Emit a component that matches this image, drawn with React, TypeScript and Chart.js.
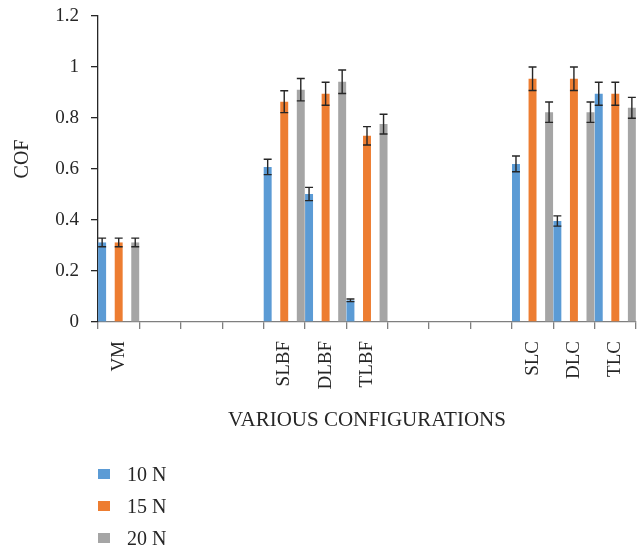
import React, { useEffect, useRef } from "react";
import { Chart, registerables } from "chart.js";

Chart.register(...registerables);

const categories = ["VM", "", "", "", "SLBF", "DLBF", "TLBF", "", "", "", "SLC", "DLC", "TLC"];
const seriesNames = ["10 N", "15 N", "20 N"];
const cof10 = [0.312, null, null, null, 0.608, 0.502, 0.085, null, null, null, 0.62, 0.396, 0.895];
const cof15 = [0.312, null, null, null, 0.864, 0.895, 0.73, null, null, null, 0.954, 0.954, 0.895];
const cof20 = [0.312, null, null, null, 0.911, 0.942, 0.776, null, null, null, 0.823, 0.823, 0.84];
const err10 = [0.017, null, null, null, 0.03, 0.026, 0.005, null, null, null, 0.031, 0.02, 0.045];
const err15 = [0.017, null, null, null, 0.043, 0.045, 0.036, null, null, null, 0.046, 0.046, 0.045];
const err20 = [0.017, null, null, null, 0.044, 0.046, 0.039, null, null, null, 0.04, 0.04, 0.041];
const colors = ["#5B9BD5", "#ED7D31", "#A5A5A5"];
const yTitle = "COF";

const FONT = "'Liberation Serif', 'Times New Roman', serif";
const TEXT = "#262626";

const errorBarPlugin = {
  id: "errorBars",
  afterDatasetsDraw(chart: any) {
    const ctx = chart.ctx;
    const yScale = chart.scales.y;
    chart.data.datasets.forEach((ds: any, di: number) => {
      const meta = chart.getDatasetMeta(di);
      meta.data.forEach((bar: any, i: number) => {
        const v = ds.data[i];
        const e = ds.errors ? ds.errors[i] : null;
        if (v == null || e == null) return;
        const yt = yScale.getPixelForValue(v + e);
        const yb = yScale.getPixelForValue(v - e);
        const half = bar.width / 2;
        ctx.save();
        ctx.strokeStyle = "#262626";
        ctx.lineWidth = 1.4;
        ctx.beginPath();
        ctx.moveTo(bar.x, yt);
        ctx.lineTo(bar.x, yb);
        ctx.moveTo(bar.x - half, yt);
        ctx.lineTo(bar.x + half, yt);
        ctx.moveTo(bar.x - half, yb);
        ctx.lineTo(bar.x + half, yb);
        ctx.stroke();
        ctx.restore();
      });
    });
  },
};

const yTitlePlugin = {
  id: "yTitle",
  afterDraw(chart: any) {
    const ctx = chart.ctx;
    const area = chart.chartArea;
    ctx.save();
    ctx.translate(23, (area.top + area.bottom) / 2 - 10);
    ctx.rotate(-Math.PI / 2);
    ctx.font = `20px ${FONT}`;
    ctx.fillStyle = TEXT;
    ctx.textAlign = "center";
    ctx.textBaseline = "middle";
    ctx.fillText(yTitle, 0, 0);
    ctx.restore();
  },
};

export default function App() {
  const canvasRef = useRef<HTMLCanvasElement>(null);

  useEffect(() => {
    if (!canvasRef.current) return;
    const values = [cof10, cof15, cof20];
    const errs = [err10, err15, err20];
    const chart = new Chart(canvasRef.current, {
      type: "bar",
      data: {
        labels: categories,
        datasets: seriesNames.map((name, k) => ({
          label: name,
          data: values[k],
          errors: errs[k],
          backgroundColor: colors[k],
          borderWidth: 0,
          categoryPercentage: 1.2,
          barPercentage: 0.48,
        })) as any,
      },
      options: {
        animation: false,
        responsive: true,
        maintainAspectRatio: false,
        layout: { padding: { left: 0, top: 16, right: 6, bottom: 108 } },
        plugins: {
          legend: { display: false },
          tooltip: { enabled: false },
        },
        scales: {
          x: {
            afterFit(scale: any) {
              scale.height = 118;
              scale.paddingRight = 0;
              scale.paddingLeft = 0;
            },
            border: { display: true, color: "#7f7f7f", width: 1.3 },
            grid: {
              display: true,
              drawOnChartArea: false,
              drawTicks: true,
              tickLength: 7,
              color: "#7f7f7f",
              lineWidth: 1.3,
              offset: true,
            },
            ticks: {
              autoSkip: false,
              maxRotation: 90,
              minRotation: 90,
              padding: 12,
              color: TEXT,
              font: { family: FONT, size: 19 },
            },
            title: {
              display: true,
              text: "VARIOUS CONFIGURATIONS",
              color: TEXT,
              font: { family: FONT, size: 21 },
              padding: { top: 0, bottom: 7 },
            },
          },
          y: {
            min: 0,
            max: 1.2,
            afterFit(scale: any) {
              scale.width = 98;
              scale.paddingTop = 0;
              scale.paddingBottom = 0;
            },
            border: { display: true, color: "#262626", width: 1.3 },
            grid: {
              display: true,
              drawOnChartArea: false,
              drawTicks: true,
              tickLength: 7,
              color: "#262626",
              lineWidth: 1.3,
            },
            ticks: {
              stepSize: 0.2,
              padding: 12,
              color: TEXT,
              font: { family: FONT, size: 19 },
              callback: (v: any) => String(Math.round(Number(v) * 10) / 10),
            },
            title: { display: false },
          },
        },
      } as any,
      plugins: [errorBarPlugin, yTitlePlugin],
    });
    return () => chart.destroy();
  }, []);

  const legendTops = [462, 494, 526];

  return (
    <div style={{ position: "absolute", left: 0, top: 0, width: 642, height: 548, background: "#fff" }}>
      <canvas ref={canvasRef} />
      {seriesNames.map((name, k) => (
        <div
          key={name}
          style={{
            position: "absolute",
            left: 98,
            top: legendTops[k],
            height: 24,
            display: "flex",
            alignItems: "center",
            fontFamily: FONT,
            fontSize: 20,
            lineHeight: "24px",
            color: TEXT,
          }}
        >
          <span style={{ display: "inline-block", width: 12, height: 10, background: colors[k], marginRight: 17 }} />
          <span>{name}</span>
        </div>
      ))}
    </div>
  );
}
